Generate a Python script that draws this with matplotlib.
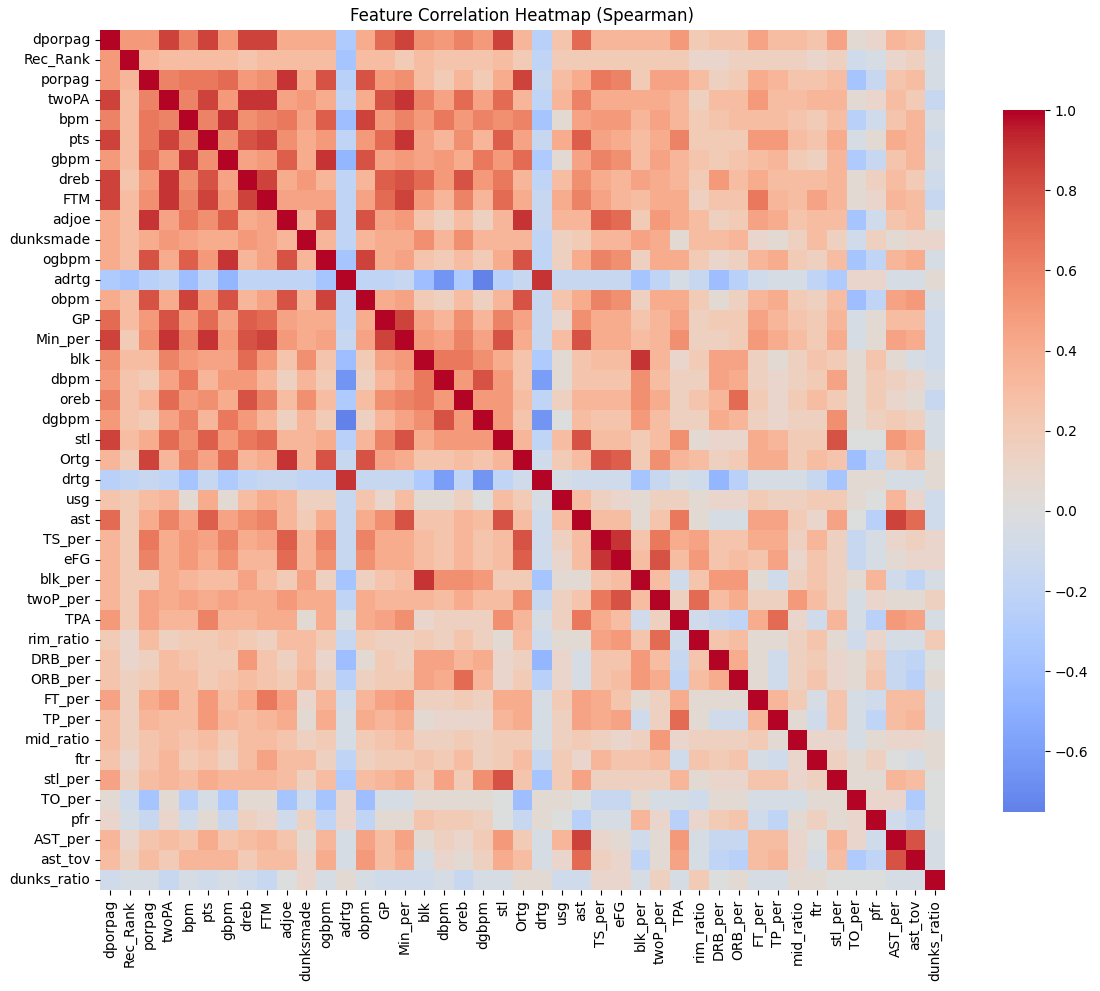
import numpy as np
import matplotlib
matplotlib.use("Agg")
import matplotlib.pyplot as plt
import seaborn as sns

labels = ["dporpag", "Rec_Rank", "porpag", "twoPA", "bpm", "pts", "gbpm", "dreb", "FTM", "adjoe",
          "dunksmade", "ogbpm", "adrtg", "obpm", "GP", "Min_per", "blk", "dbpm", "oreb", "dgbpm",
          "stl", "Ortg", "drtg", "usg", "ast", "TS_per", "eFG", "blk_per", "twoP_per", "TPA",
          "rim_ratio", "DRB_per", "ORB_per", "FT_per", "TP_per", "mid_ratio", "ftr", "stl_per",
          "TO_per", "pfr", "AST_per", "ast_tov", "dunks_ratio"]

# upper triangle, row i holds correlations with columns i+1 .. end
upper = [
    [0.5, 0.5, 0.85, 0.6, 0.85, 0.5, 0.85, 0.85, 0.4, 0.4, 0.4, -0.3, 0.4, 0.7, 0.85, 0.55, 0.5, 0.6, 0.5, 0.85, 0.35, -0.25, 0.25, 0.7, 0.35, 0.35, 0.35, 0.35, 0.5, 0.2, 0.25, 0.25, 0.45, 0.3, 0.3, 0.25, 0.45, 0.05, 0.1, 0.35, 0.3, -0.1],
    [0.35, 0.3, 0.3, 0.3, 0.3, 0.25, 0.3, 0.3, 0.3, 0.3, -0.35, 0.3, 0.3, 0.2, 0.3, 0.25, 0.25, 0.25, 0.3, 0.2, -0.2, 0.2, 0.2, 0.2, 0.2, 0.2, 0.2, 0.2, 0.1, 0.1, 0.15, 0.15, 0.15, 0.15, 0.1, 0.15, -0.1, -0.05, 0.1, 0.15, -0.05],
    [0.6, 0.65, 0.65, 0.7, 0.5, 0.55, 0.9, 0.4, 0.8, -0.25, 0.8, 0.5, 0.55, 0.3, 0.2, 0.35, 0.2, 0.4, 0.85, -0.15, 0.3, 0.4, 0.65, 0.6, 0.2, 0.45, 0.45, 0.3, 0.15, 0.2, 0.4, 0.35, 0.25, 0.25, 0.3, -0.35, -0.15, 0.25, 0.3, -0.05],
    [0.6, 0.85, 0.5, 0.9, 0.9, 0.45, 0.5, 0.4, -0.2, 0.4, 0.8, 0.9, 0.6, 0.45, 0.7, 0.45, 0.7, 0.35, -0.2, 0.35, 0.6, 0.4, 0.4, 0.4, 0.4, 0.35, 0.15, 0.3, 0.3, 0.5, 0.3, 0.3, 0.35, 0.35, 0.05, 0.1, 0.3, 0.2, -0.15],
    [0.6, 0.9, 0.55, 0.6, 0.65, 0.45, 0.75, -0.4, 0.85, 0.5, 0.6, 0.5, 0.65, 0.5, 0.6, 0.55, 0.6, -0.35, 0.05, 0.45, 0.5, 0.5, 0.35, 0.45, 0.35, 0.2, 0.25, 0.3, 0.3, 0.3, 0.25, 0.2, 0.3, -0.25, -0.1, 0.25, 0.35, -0.05],
    [0.55, 0.8, 0.85, 0.55, 0.4, 0.5, -0.2, 0.5, 0.7, 0.9, 0.45, 0.35, 0.55, 0.35, 0.75, 0.45, -0.15, 0.4, 0.75, 0.45, 0.4, 0.3, 0.4, 0.6, 0.2, 0.2, 0.2, 0.5, 0.5, 0.3, 0.25, 0.4, -0.05, 0.05, 0.4, 0.35, -0.1],
    [0.45, 0.5, 0.75, 0.4, 0.9, -0.45, 0.8, 0.45, 0.5, 0.45, 0.5, 0.4, 0.65, 0.5, 0.7, -0.3, 0.05, 0.45, 0.6, 0.55, 0.3, 0.45, 0.35, 0.25, 0.2, 0.25, 0.3, 0.35, 0.2, 0.15, 0.35, -0.3, -0.15, 0.25, 0.35, -0.05],
    [0.85, 0.4, 0.5, 0.35, -0.2, 0.35, 0.75, 0.8, 0.7, 0.5, 0.8, 0.5, 0.65, 0.35, -0.2, 0.3, 0.55, 0.4, 0.35, 0.45, 0.4, 0.35, 0.2, 0.5, 0.3, 0.4, 0.3, 0.3, 0.3, 0.35, 0.05, 0.15, 0.3, 0.2, -0.1],
    [0.45, 0.45, 0.45, -0.2, 0.45, 0.7, 0.85, 0.5, 0.35, 0.6, 0.35, 0.7, 0.4, -0.15, 0.4, 0.6, 0.45, 0.35, 0.3, 0.4, 0.4, 0.15, 0.25, 0.25, 0.65, 0.35, 0.3, 0.45, 0.35, 0.05, 0.1, 0.35, 0.3, -0.15],
    [0.35, 0.8, -0.2, 0.8, 0.45, 0.5, 0.25, 0.15, 0.3, 0.15, 0.35, 0.9, -0.15, 0.35, 0.35, 0.75, 0.7, 0.2, 0.5, 0.4, 0.3, 0.15, 0.2, 0.45, 0.4, 0.25, 0.3, 0.3, -0.35, -0.1, 0.25, 0.3, 0.0],
    [0.35, -0.2, 0.35, 0.4, 0.4, 0.55, 0.35, 0.55, 0.35, 0.35, 0.35, -0.2, 0.15, 0.2, 0.35, 0.35, 0.45, 0.4, 0.05, 0.3, 0.3, 0.35, 0.1, 0.05, 0.15, 0.3, 0.15, -0.1, 0.15, 0.05, 0.1, 0.1],
    [-0.35, 0.85, 0.4, 0.45, 0.25, 0.2, 0.3, 0.2, 0.4, 0.8, -0.2, 0.15, 0.4, 0.6, 0.55, 0.15, 0.4, 0.4, 0.2, 0.1, 0.15, 0.35, 0.4, 0.2, 0.15, 0.3, -0.35, -0.2, 0.35, 0.4, -0.05],
    [-0.2, -0.2, -0.15, -0.4, -0.65, -0.3, -0.75, -0.25, -0.15, 0.9, -0.15, -0.15, -0.15, -0.15, -0.35, -0.2, -0.05, -0.15, -0.4, -0.25, -0.1, -0.05, -0.05, -0.2, -0.3, 0.1, 0.1, -0.05, -0.05, 0.05],
    [0.4, 0.45, 0.2, 0.15, 0.3, 0.15, 0.35, 0.8, -0.15, 0.25, 0.4, 0.6, 0.55, 0.15, 0.4, 0.4, 0.2, 0.05, 0.15, 0.35, 0.4, 0.2, 0.15, 0.3, -0.4, -0.2, 0.45, 0.5, -0.05],
    [0.85, 0.45, 0.35, 0.55, 0.35, 0.6, 0.45, -0.15, 0.1, 0.55, 0.4, 0.4, 0.25, 0.35, 0.45, 0.15, 0.2, 0.2, 0.45, 0.35, 0.25, 0.2, 0.35, -0.05, 0.05, 0.3, 0.3, -0.1],
    [0.5, 0.45, 0.6, 0.45, 0.8, 0.4, -0.15, 0.3, 0.8, 0.4, 0.4, 0.3, 0.35, 0.55, 0.15, 0.15, 0.2, 0.5, 0.4, 0.3, 0.2, 0.4, -0.05, 0.05, 0.45, 0.4, -0.1],
    [0.65, 0.65, 0.55, 0.4, 0.25, -0.3, 0.05, 0.25, 0.3, 0.3, 0.9, 0.35, 0.1, 0.2, 0.45, 0.45, 0.15, 0.05, 0.15, 0.25, 0.2, 0.05, 0.25, 0.05, -0.05, -0.1],
    [0.5, 0.8, 0.5, 0.25, -0.6, 0.05, 0.25, 0.25, 0.25, 0.55, 0.3, 0.15, 0.15, 0.45, 0.4, 0.15, 0.1, 0.15, 0.2, 0.45, 0.05, 0.2, 0.15, 0.1, -0.05],
    [0.5, 0.5, 0.3, -0.2, 0.15, 0.35, 0.35, 0.35, 0.55, 0.4, 0.15, 0.25, 0.35, 0.7, 0.2, 0.1, 0.2, 0.3, 0.2, 0.05, 0.2, 0.1, 0.05, -0.15],
    [0.5, 0.25, -0.65, 0.0, 0.3, 0.25, 0.25, 0.5, 0.3, 0.15, 0.15, 0.4, 0.35, 0.15, 0.1, 0.15, 0.15, 0.55, 0.05, 0.15, 0.2, 0.15, -0.05],
    [0.35, -0.2, 0.3, 0.8, 0.3, 0.3, 0.2, 0.3, 0.55, 0.05, 0.1, 0.1, 0.4, 0.35, 0.2, 0.2, 0.8, 0.0, 0.0, 0.5, 0.4, -0.05],
    [-0.1, 0.2, 0.3, 0.8, 0.75, 0.2, 0.55, 0.35, 0.3, 0.15, 0.2, 0.4, 0.4, 0.2, 0.3, 0.25, -0.4, -0.15, 0.2, 0.3, 0.05],
    [-0.05, -0.1, -0.1, -0.1, -0.35, -0.15, -0.05, -0.1, -0.45, -0.25, -0.05, -0.05, -0.05, -0.15, -0.35, 0.05, 0.05, -0.05, -0.05, 0.05],
    [0.3, 0.15, 0.1, 0.05, 0.15, 0.15, 0.05, 0.1, 0.1, 0.2, 0.15, 0.15, 0.2, 0.2, 0.05, 0.0, 0.35, 0.1, -0.1],
    [0.3, 0.3, 0.05, 0.25, 0.65, 0.05, -0.05, -0.05, 0.45, 0.45, 0.2, 0.1, 0.45, 0.0, -0.25, 0.85, 0.7, -0.1],
    [0.9, 0.25, 0.65, 0.4, 0.45, 0.25, 0.25, 0.4, 0.4, 0.15, 0.35, 0.15, -0.15, -0.05, 0.1, 0.15, 0.1],
    [0.3, 0.8, 0.3, 0.5, 0.25, 0.3, 0.25, 0.45, 0.1, 0.25, 0.15, -0.15, -0.05, 0.05, 0.1, 0.1],
    [0.3, -0.1, 0.25, 0.5, 0.5, 0.05, -0.1, 0.15, 0.25, 0.15, 0.05, 0.35, -0.1, -0.2, -0.05],
    [0.15, 0.7, 0.3, 0.4, 0.15, 0.15, 0.5, 0.3, 0.15, -0.05, 0.1, 0.05, 0.05, 0.15],
    [-0.1, -0.15, -0.2, 0.4, 0.7, 0.1, -0.1, 0.35, -0.05, -0.25, 0.5, 0.45, -0.05],
    [0.25, 0.3, 0.05, 0.05, 0.15, 0.25, 0.05, -0.1, 0.1, -0.05, -0.05, 0.2],
    [0.4, 0.05, -0.1, 0.15, 0.2, 0.1, 0.05, 0.2, -0.15, -0.2, 0.0],
    [0.05, -0.1, 0.15, 0.25, 0.1, 0.05, 0.25, -0.15, -0.25, 0.05],
    [0.35, 0.2, -0.05, 0.25, -0.05, -0.1, 0.3, 0.3, -0.05],
    [0.05, -0.1, 0.25, -0.05, -0.2, 0.3, 0.35, -0.05],
    [0.1, 0.1, -0.05, 0.05, 0.1, 0.1, 0.05],
    [0.15, 0.05, 0.15, 0.0, -0.05, 0.05],
    [0.05, 0.05, 0.35, 0.3, 0.0],
    [0.1, 0.1, -0.3, 0.0],
    [-0.1, -0.2, 0.0],
    [0.8, -0.05],
    [-0.05],
]

n = len(labels)
corr = np.eye(n)
for i, row in enumerate(upper):
    for k, v in enumerate(row):
        corr[i, i + 1 + k] = v
        corr[i + 1 + k, i] = v

fig = plt.figure(figsize=(11, 9.91), dpi=100)
ax = fig.add_axes([0.091, 0.102, 0.768, 0.868])
cax = fig.add_axes([0.912, 0.181, 0.038, 0.708])
sns.heatmap(corr, cmap="coolwarm", center=0, ax=ax, cbar_ax=cax,
            xticklabels=labels, yticklabels=labels)
ax.set_title("Feature Correlation Heatmap (Spearman)")
plt.savefig("out.png", dpi=100)
